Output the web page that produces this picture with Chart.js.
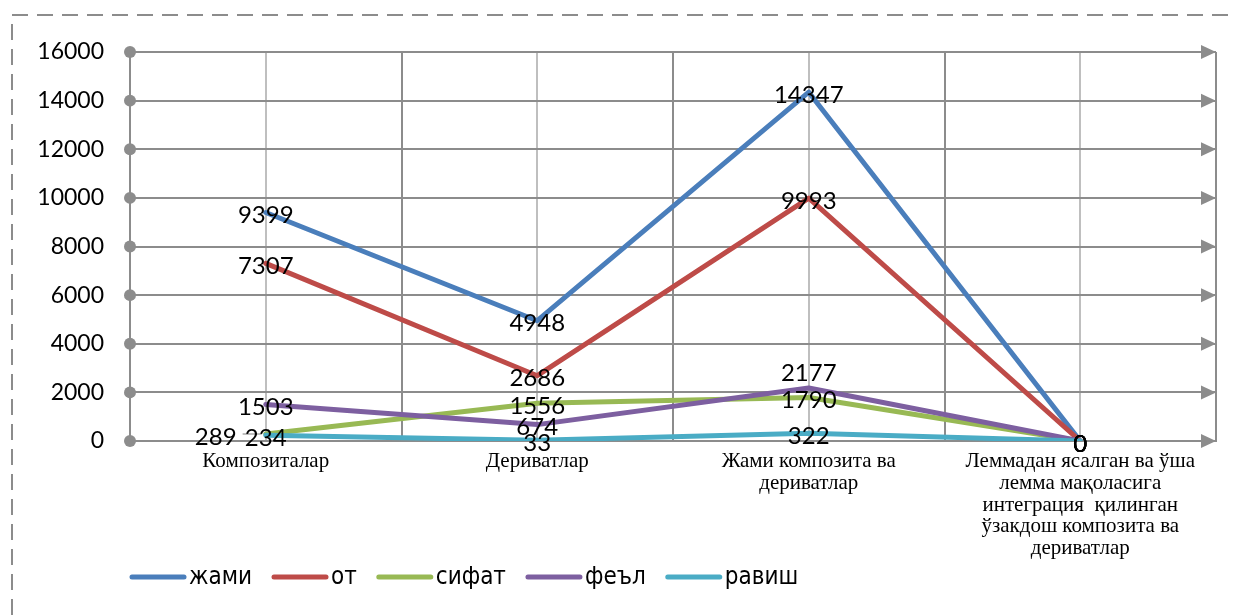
<!DOCTYPE html>
<html>
<head>
<meta charset="utf-8">
<script src="https://cdn.jsdelivr.net/npm/chart.js@4.4.0/dist/chart.umd.min.js"></script>
<style>
  html, body { margin: 0; padding: 0; background: #fff; }
</style>
</head>
<body>
<canvas id="mycanvas" width="1235" height="615"></canvas>
<script>
// chart data
var categories = [
    'Композиталар',
    'Дериватлар',
    ['Жами композита ва', 'дериватлар'],
    ['Леммадан ясалган ва ўша', 'лемма мақоласига', 'интеграция  қилинган', 'ўзакдош композита ва', 'дериватлар']
];
var seriesNames = ['жами', 'от', 'сифат', 'феъл', 'равиш'];
var zhami = [9399, 4948, 14347, 0];
var ot = [7307, 2686, 9993, 0];
var sifat = [289, 1556, 1790, 0];
var feal = [1503, 674, 2177, 0];
var ravish = [234, 33, 322, 0];
var yTicks = [0, 2000, 4000, 6000, 8000, 10000, 12000, 14000, 16000];

var seriesColors = ['#4a7ebb', '#be4b48', '#98b954', '#7d5fa0', '#4aacc5'];
var gridGray = '#8c8c8c';
var lightGray = '#bfbfbf';

// label nudges where the original chart moved labels out of the way
var labelNudge = {
    '2-0': { dx: -50, dy: 0, leader: true },
    '3-2': { dx: 0, dy: -18 }
};

var allSeries = [zhami, ot, sifat, feal, ravish];
var datasets = allSeries.map(function (vals, i) {
    return {
        label: seriesNames[i],
        data: vals,
        borderColor: seriesColors[i],
        backgroundColor: seriesColors[i],
        borderWidth: 5,
        tension: 0,
        pointRadius: 0,
        borderJoinStyle: 'round',
        borderCapStyle: 'round',
        order: allSeries.length - i
    };
});

var decor = {
    id: 'decor',
    beforeDraw: function (chart) {
        var c = chart.ctx, a = chart.chartArea, x = chart.scales.x;
        // dashed frame
        c.save();
        c.strokeStyle = gridGray;
        c.lineWidth = 2;
        c.setLineDash([16, 9]);
        c.beginPath();
        c.moveTo(12, 640);
        c.lineTo(12, 15);
        c.lineTo(1260, 15);
        c.stroke();
        c.setLineDash([]);
        // light vertical lines at category centers
        c.strokeStyle = lightGray;
        c.lineWidth = 2;
        for (var i = 0; i < categories.length; i++) {
            var px = Math.round(x.getPixelForValue(i));
            c.beginPath();
            c.moveTo(px, a.top);
            c.lineTo(px, a.bottom);
            c.stroke();
        }
        c.restore();
    },
    beforeDatasetsDraw: function (chart) {
        var c = chart.ctx, a = chart.chartArea, y = chart.scales.y;
        c.save();
        c.fillStyle = gridGray;
        yTicks.forEach(function (t) {
            var py = y.getPixelForValue(t);
            // dot on the left axis
            c.beginPath();
            c.arc(a.left, py, 6, 0, Math.PI * 2);
            c.fill();
            // arrow head on the right
            c.beginPath();
            c.moveTo(a.right, py);
            c.lineTo(a.right - 15, py - 7);
            c.lineTo(a.right - 15, py + 7);
            c.closePath();
            c.fill();
        });
        c.restore();
    },
    afterDatasetsDraw: function (chart) {
        var c = chart.ctx;
        c.save();
        c.font = '24px Lato, "Open Sans", sans-serif';
        c.fillStyle = '#000';
        c.textAlign = 'center';
        c.textBaseline = 'middle';
        chart.data.datasets.forEach(function (ds, di) {
            var meta = chart.getDatasetMeta(di);
            meta.data.forEach(function (pt, ci) {
                var n = labelNudge[di + '-' + ci] || { dx: 0, dy: 0 };
                var tx = pt.x + n.dx, ty = pt.y + 3 + n.dy;
                if (n.leader) {
                    var w = c.measureText(String(ds.data[ci])).width;
                    c.strokeStyle = lightGray;
                    c.lineWidth = 2;
                    c.beginPath();
                    c.moveTo(tx + w / 2 + 6, pt.y);
                    c.lineTo(pt.x - 4, pt.y);
                    c.stroke();
                }
                c.fillText(String(ds.data[ci]), tx, ty);
            });
        });
        // legend
        c.font = '24px "Liberation Sans Narrow", "DejaVu Sans Condensed", sans-serif';
        c.textAlign = 'left';
        c.lineCap = 'round';
        c.lineWidth = 5;
        var lx = 132, ly = 577;
        chart.data.datasets.forEach(function (ds) {
            c.strokeStyle = ds.borderColor;
            c.beginPath();
            c.moveTo(lx, ly);
            c.lineTo(lx + 52, ly);
            c.stroke();
            lx += 57;
            c.fillStyle = '#000';
            c.fillText(ds.label, lx, ly + 1);
            lx += c.measureText(ds.label).width + 22;
        });
        c.restore();
    }
};

var ctx_live = document.getElementById('mycanvas');
var myChart = new Chart(ctx_live, {
    type: 'line',
    data: {
        labels: categories,
        datasets: datasets
    },
    options: {
        responsive: false,
        animation: false,
        devicePixelRatio: 1,
        layout: { padding: { top: 52, right: 19, left: 0, bottom: 0 } },
        plugins: {
            legend: { display: false },
            tooltip: { enabled: false }
        },
        scales: {
            x: {
                offset: true,
                grid: { offset: true, color: gridGray, lineWidth: 2, drawTicks: false },
                border: { color: gridGray, width: 2 },
                ticks: {
                    autoSkip: false,
                    maxRotation: 0,
                    padding: 10,
                    color: '#000',
                    font: { family: '"Liberation Serif", "Times New Roman", serif', size: 21, lineHeight: 1.03 }
                },
                afterFit: function (scale) { scale.height = 174; }
            },
            y: {
                min: 0,
                max: 16000,
                grid: { color: gridGray, lineWidth: 2, drawTicks: false },
                border: { color: gridGray, width: 2 },
                ticks: {
                    stepSize: 2000,
                    padding: 26,
                    color: '#000',
                    font: { family: 'Lato, "Open Sans", sans-serif', size: 23 },
                    callback: function (v) { return String(v); }
                },
                afterFit: function (scale) { scale.width = 130; }
            }
        }
    },
    plugins: [decor]
});
</script>
</body>
</html>
